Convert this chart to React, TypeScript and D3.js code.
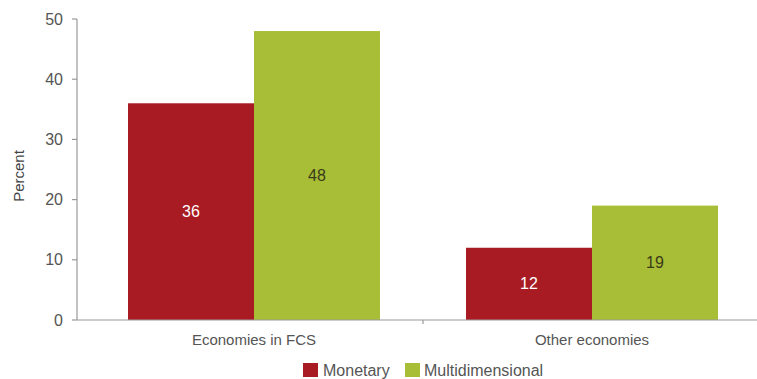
import React from "react";
import * as d3 from "d3";

const categories = ["Economies in FCS", "Other economies"];
const seriesNames = ["Monetary", "Multidimensional"];
const monetary = [36, 12];
const multidimensional = [48, 19];
const yTicks = [0, 10, 20, 30, 40, 50];

const colors = ["#A91B22", "#A8BE36"];
const labelColors = ["#FFFFFF", "#3a3a1a"];

export default function App() {
  const W = 757, H = 379;
  const y = d3.scaleLinear().domain([0, 50]).range([320, 19]);
  const x0 = d3.scaleBand<string>().domain(categories).range([85, 761]).padding(0);
  const x1 = d3.scaleBand<string>().domain(seriesNames).range([43, x0.bandwidth() - 43]).padding(0);
  const values = [monetary, multidimensional];
  const font = "Liberation Sans, Arial, sans-serif";
  const textColor = "#555";
  return (
    <svg width={W} height={H} style={{ position: "absolute", left: 0, top: 0 }} fontFamily={font}>
      {/* y axis */}
      <line x1={77} x2={77} y1={y(50)} y2={y(0)} stroke="#999" strokeWidth={1.2} />
      {yTicks.map((t) => (
        <g key={t}>
          <line x1={72} x2={77} y1={y(t)} y2={y(t)} stroke="#999" strokeWidth={1.2} />
          <text x={63} y={y(t)} dy="0.35em" textAnchor="end" fontSize={16} fill={textColor}>{t}</text>
        </g>
      ))}
      <text transform={`translate(24,176) rotate(-90)`} textAnchor="middle" fontSize={15} fill="#444">Percent</text>
      {/* bars */}
      {categories.map((c, ci) => (
        <g key={c} transform={`translate(${x0(c)},0)`}>
          {seriesNames.map((s, si) => {
            const v = values[si][ci];
            const bx = x1(s)!;
            return (
              <g key={s}>
                <rect x={bx} y={y(v)} width={x1.bandwidth()} height={y(0) - y(v)} fill={colors[si]} />
                <text x={bx + x1.bandwidth() / 2} y={(y(v) + y(0)) / 2} dy="0.35em" textAnchor="middle" fontSize={16} fill={labelColors[si]}>{v}</text>
              </g>
            );
          })}
          <text x={x0.bandwidth() / 2} y={345} textAnchor="middle" fontSize={15} fill={textColor}>{c}</text>
        </g>
      ))}
      {/* x axis */}
      <line x1={77} x2={W} y1={y(0)} y2={y(0)} stroke="#999" strokeWidth={1.2} />
      <line x1={423} x2={423} y1={y(0)} y2={y(0) + 4} stroke="#999" strokeWidth={1.2} />
      {/* legend */}
      <rect x={303} y={363} width={15} height={14} fill={colors[0]} />
      <text x={323} y={376} fontSize={16} fill={textColor}>{seriesNames[0]}</text>
      <rect x={405} y={363} width={15} height={14} fill={colors[1]} />
      <text x={424} y={376} fontSize={16} fill={textColor}>{seriesNames[1]}</text>
    </svg>
  );
}
